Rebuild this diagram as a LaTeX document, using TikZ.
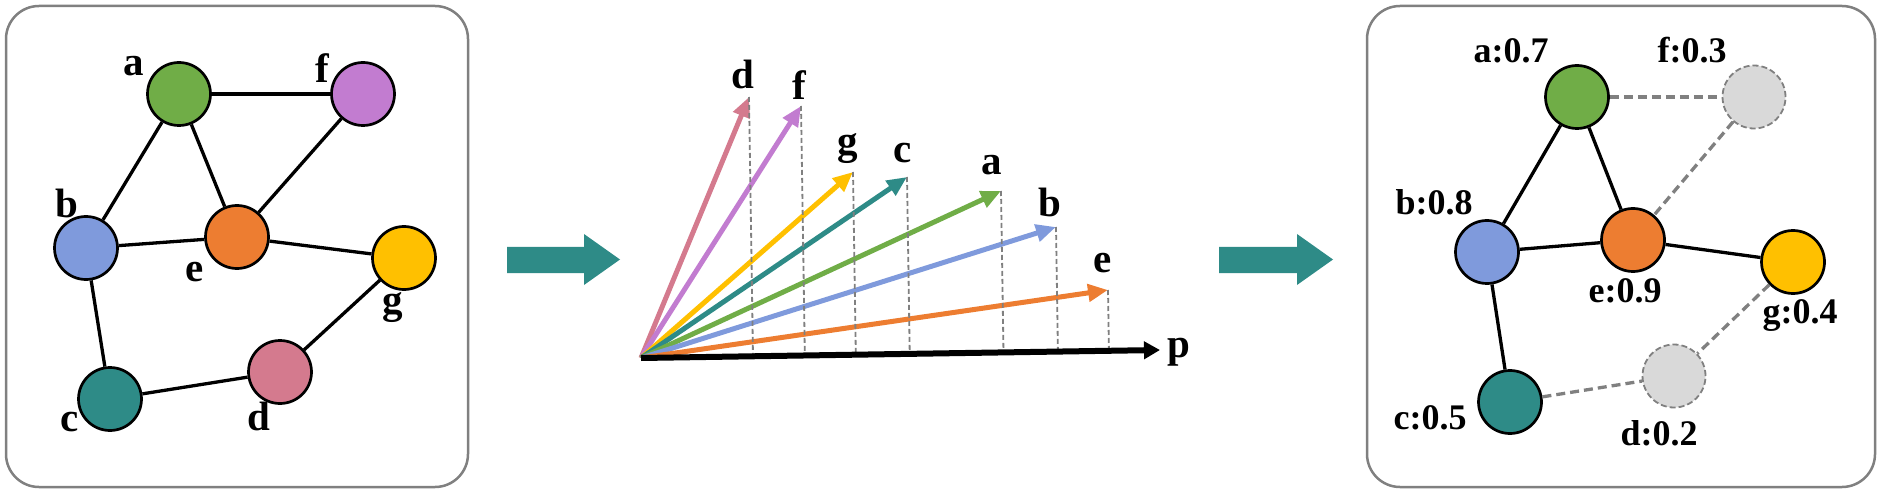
\documentclass[tikz,border=0pt]{standalone}
\usepackage{fontspec}
\setmainfont{Liberation Serif}
\usetikzlibrary{arrows.meta,calc}
\definecolor{cgreen}{RGB}{112,173,71}
\definecolor{cpurple}{RGB}{194,124,208}
\definecolor{cblue}{RGB}{127,154,220}
\definecolor{corange}{RGB}{237,125,49}
\definecolor{cyellow}{RGB}{255,192,0}
\definecolor{cteal}{RGB}{46,139,135}
\definecolor{cpink}{RGB}{212,122,142}
\definecolor{cghost}{RGB}{217,217,217}
\definecolor{edgegray}{RGB}{128,128,128}
\definecolor{boxgray}{RGB}{128,128,128}
\begin{document}
\begin{tikzpicture}[x=1pt,y=-1pt,
  vert/.style={circle,draw=black,line width=2.7pt,minimum size=63pt,inner sep=0pt},
  ghost/.style={circle,draw=edgegray,line width=1.8pt,dash pattern=on 6pt off 3pt,fill=cghost,minimum size=63pt,inner sep=0pt},
  lbl/.style={font=\fontsize{41}{41}\selectfont\bfseries,inner sep=0pt},
  slbl/.style={font=\fontsize{36}{36}\selectfont\bfseries,inner sep=0pt},
  edge/.style={line width=3.3pt,black},
  dedge/.style={line width=3.3pt,edgegray,dash pattern=on 9pt off 5pt},
  vec/.style={line width=5pt,-{Triangle[length=20pt,width=17pt]}},
  proj/.style={line width=1.8pt,edgegray,dash pattern=on 5pt off 3pt},
  panel/.style={draw=boxgray,line width=2.5pt,rounded corners=33pt},
  bigarrow/.style={fill=cteal}]
\useasboundingbox (0,0) rectangle (1902,494);

% ---------- left panel ----------
\draw[panel] (6,6) rectangle (468,487);
\node[vert,fill=cgreen]  (la) at (179,94) {};
\node[vert,fill=cpurple] (lf) at (363,94) {};
\node[vert,fill=cblue]   (lb) at (86,248) {};
\node[vert,fill=corange] (le) at (237,237) {};
\node[vert,fill=cyellow] (lg) at (404,258) {};
\node[vert,fill=cteal]   (lc) at (110,399) {};
\node[vert,fill=cpink]   (ld) at (280,372) {};
\draw[edge] (la) -- (lf);
\draw[edge] (la) -- (lb);
\draw[edge] (la) -- (le);
\draw[edge] (lf) -- (le);
\draw[edge] (lb) -- (le);
\draw[edge] (le) -- (lg);
\draw[edge] (lb) -- (lc);
\draw[edge] (lc) -- (ld);
\draw[edge] (ld) -- (lg);
\node[lbl] (tla) at (134,66) {a};
\node[lbl] (tlf) at (322,68) {f};
\node[lbl] (tlb) at (67,203) {b};
\node[lbl] (tle) at (195,272) {e};
\node[lbl] (tlg) at (393,308) {g};
\node[lbl] (tlc) at (70,422) {c};
\node[lbl] (tld) at (259,416) {d};

% ---------- arrow 1 ----------
\fill[bigarrow] (507,247) -- (584,247) -- (584,234) -- (620,259.5) -- (584,285) -- (584,273) -- (507,273) -- cycle;

% ---------- middle panel ----------
\coordinate (O) at (641,358);
\coordinate (P) at (1160,350);
\coordinate (vd) at (749,97);
\coordinate (vf) at (801,106);
\coordinate (vg) at (853,172);
\coordinate (vc) at (907,177);
\coordinate (va) at (1001,191);
\coordinate (vb) at (1056,227);
\coordinate (ve) at (1108,290);
\draw[vec,cpink]   (O) -- (vd);
\draw[vec,cpurple] (O) -- (vf);
\draw[vec,cyellow] (O) -- (vg);
\draw[vec,cteal]   (O) -- (vc);
\draw[vec,cgreen]  (O) -- (va);
\draw[vec,cblue]   (O) -- (vb);
\draw[vec,corange] (O) -- (ve);
\foreach \v in {vd,vf,vg,vc,va,vb,ve}{
  \draw[proj] (\v) -- ($(O)!(\v)!(P)$);
}
\draw[line width=6pt,-{Triangle[length=16pt,width=17pt]}] (O) -- (P);
\node[lbl] (tp) at (1179,352) {p};
\node[lbl] (tvd) at (743,74) {d};
\node[lbl] (tvf) at (799,85) {f};
\node[lbl] (tvg) at (848,149) {g};
\node[lbl] (tvc) at (903,153) {c};
\node[lbl] (tva) at (992,165) {a};
\node[lbl] (tvb) at (1050,202) {b};
\node[lbl] (tve) at (1103,263) {e};

% ---------- arrow 2 ----------
\fill[bigarrow] (1219,247) -- (1297,247) -- (1297,234) -- (1333,259.5) -- (1297,285) -- (1297,273) -- (1219,273) -- cycle;

% ---------- right panel ----------
\draw[panel] (1367,6) rectangle (1875,487);
\node[vert,fill=cgreen]  (ra) at (1577,97) {};
\node[ghost]             (rf) at (1754,97) {};
\node[vert,fill=cblue]   (rb) at (1487,252) {};
\node[vert,fill=corange] (re) at (1633,240) {};
\node[vert,fill=cyellow] (rg) at (1793,262) {};
\node[vert,fill=cteal]   (rc) at (1510,402) {};
\node[ghost]             (rd) at (1674,376) {};
\draw[edge] (ra) -- (rb);
\draw[edge] (ra) -- (re);
\draw[edge] (rb) -- (re);
\draw[edge] (re) -- (rg);
\draw[edge] (rb) -- (rc);
\draw[dedge] (ra) -- (rf);
\draw[dedge] (rf) -- (re);
\draw[dedge] (rg) -- (rd);
\draw[dedge] (rc) -- (rd);
\node[slbl] (tra) at (1511,51) {a:0.7};
\node[slbl] (trf) at (1692,50) {f:0.3};
\node[slbl] (trb) at (1434,202) {b:0.8};
\node[slbl] (tre) at (1625,291) {e:0.9};
\node[slbl] (trg) at (1800,316) {g:0.4};
\node[slbl] (trc) at (1430,418) {c:0.5};
\node[slbl] (trd) at (1659,433) {d:0.2};
\end{tikzpicture}
\end{document}
